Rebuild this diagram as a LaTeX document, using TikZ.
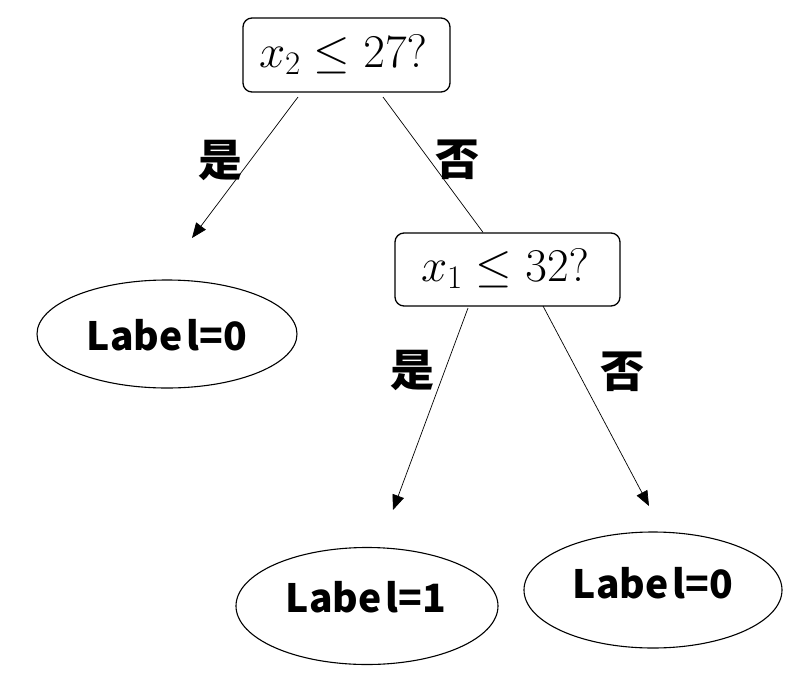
\documentclass[tikz,border=0pt]{standalone}
\usepackage{fix-cm}
\usepackage{fontspec}
\newfontfamily\cjk{Noto Sans CJK SC}
\usetikzlibrary{arrows.meta,shapes.geometric}
\tikzset{
  qbox/.style={draw, line width=1.3pt, rounded corners=9pt, inner sep=0pt, align=center},
  leaf/.style={draw, ellipse, line width=1.1pt, inner sep=0pt},
  leaftext/.style={font=\cjk\bfseries\fontsize{39}{44}\selectfont},
  yn/.style={font=\cjk\bfseries\fontsize{44}{48}\selectfont},
  conn/.style={line width=0.7pt},
  arr/.style={conn, -{Triangle[length=15pt,width=12pt]}},
  mathtext/.style={font=\fontsize{47}{52}\selectfont}
}
\begin{document}
\begin{tikzpicture}[x=1pt,y=-1pt]
\useasboundingbox (0,0) rectangle (796,686);
% decision boxes
\node[qbox, minimum width=207pt, minimum height=74pt] (q1) at (346.5,55) {};
\node[mathtext] (q1t) at (343,55) {$x_2 \le 27?$};
\node[qbox, minimum width=225pt, minimum height=73pt] (q2) at (507.5,269.5) {};
\node[mathtext] (q2t) at (505,269) {$x_1 \le 32?$};
% leaves
\node[leaf, minimum width=260pt, minimum height=108pt] (l0) at (167,334) {};
\node[leaftext] (l0t) at (167,335) {Labe\kern4pt l=0};
\node[leaf, minimum width=262pt, minimum height=117pt] (l1) at (367,606) {};
\node[leaftext] (l1t) at (366,597) {Labe\kern4pt l=1};
\node[leaf, minimum width=258pt, minimum height=116pt] (l2) at (653,590) {};
\node[leaftext] (l2t) at (653,583) {Labe\kern4pt l=0};
% connector end points
\coordinate (a1s) at (298,97);
\coordinate (a1e) at (192,238);
\coordinate (a2s) at (383,97);
\coordinate (a3s) at (468,308);
\coordinate (a3e) at (393,510);
\coordinate (a4s) at (543,306);
\coordinate (a4e) at (649,506);
\draw[arr] (a1s) -- (a1e);
\draw[conn] (a2s) -- (q2.north -| 483,0);
\draw[arr] (a3s) -- (a3e);
\draw[arr] (a4s) -- (a4e);
% yes/no labels
\node[yn] (y1) at (220,160) {是};
\node[yn] (n1) at (457,160) {否};
\node[yn] (y2) at (412,370) {是};
\node[yn] (n2) at (622,372) {否};
\end{tikzpicture}
\end{document}
